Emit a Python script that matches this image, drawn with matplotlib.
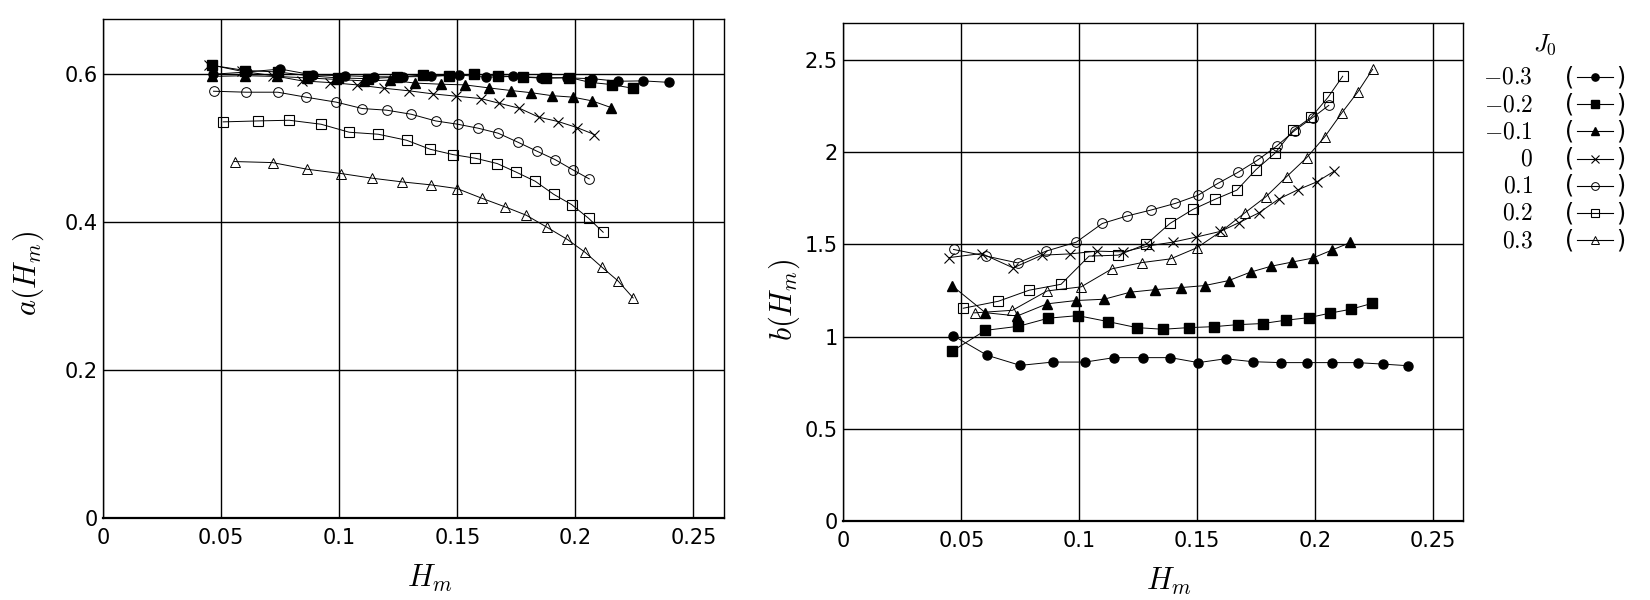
import numpy as np
import matplotlib
matplotlib.use("Agg")
import matplotlib.pyplot as plt
from matplotlib.lines import Line2D

plt.rcParams['mathtext.fontset'] = 'cm'
plt.rcParams['font.family'] = ['DejaVu Sans']

# J0 values and their labels
j0_labels = ['$-0.3$', '$-0.2$', '$-0.1$', '$0$', '$0.1$', '$0.2$', '$0.3$']

# H_m for each J0 series
hm_m03 = [0.0466, 0.0609, 0.0750, 0.0888, 0.1025, 0.1148, 0.1271, 0.1387, 0.1506, 0.1621, 0.1736, 0.1856, 0.1965, 0.2071, 0.2181, 0.2287, 0.2397]
hm_m02 = [0.0460, 0.0602, 0.0742, 0.0869, 0.0994, 0.1121, 0.1244, 0.1356, 0.1465, 0.1571, 0.1672, 0.1778, 0.1876, 0.1975, 0.2062, 0.2154, 0.2244]
hm_m01 = [0.0460, 0.0602, 0.0737, 0.0864, 0.0987, 0.1106, 0.1216, 0.1322, 0.1431, 0.1532, 0.1634, 0.1727, 0.1814, 0.1901, 0.1990, 0.2071, 0.2151]
hm_0 = [0.0449, 0.0586, 0.0720, 0.0842, 0.0962, 0.1075, 0.1188, 0.1297, 0.1398, 0.1496, 0.1599, 0.1677, 0.1763, 0.1846, 0.1928, 0.2007, 0.2081]
hm_01 = [0.0467, 0.0606, 0.0739, 0.0860, 0.0988, 0.1098, 0.1201, 0.1305, 0.1408, 0.1502, 0.1589, 0.1673, 0.1757, 0.1838, 0.1914, 0.1990, 0.2059]
hm_02 = [0.0508, 0.0657, 0.0788, 0.0923, 0.1042, 0.1165, 0.1285, 0.1385, 0.1482, 0.1576, 0.1669, 0.1750, 0.1830, 0.1908, 0.1984, 0.2056, 0.2118]
hm_03 = [0.0556, 0.0717, 0.0864, 0.1008, 0.1139, 0.1267, 0.1388, 0.1499, 0.1604, 0.1703, 0.1792, 0.1880, 0.1965, 0.2041, 0.2113, 0.2181, 0.2245]

# a(H_m)
a_m03 = [0.600, 0.603, 0.607, 0.599, 0.598, 0.5965, 0.5965, 0.597, 0.599, 0.596, 0.597, 0.5955, 0.595, 0.594, 0.5905, 0.591, 0.589]
a_m02 = [0.612, 0.605, 0.603, 0.598, 0.595, 0.594, 0.596, 0.599, 0.598, 0.600, 0.598, 0.596, 0.5945, 0.5955, 0.589, 0.586, 0.581]
a_m01 = [0.597, 0.598, 0.597, 0.595, 0.593, 0.591, 0.592, 0.588, 0.5865, 0.5856, 0.5815, 0.578, 0.575, 0.571, 0.569, 0.564, 0.555]
a_0 = [0.613, 0.604, 0.598, 0.591, 0.5887, 0.5856, 0.5811, 0.5775, 0.5734, 0.5703, 0.5671, 0.5608, 0.554, 0.5419, 0.536, 0.5279, 0.5185]
a_01 = [0.577, 0.5757, 0.5757, 0.5689, 0.5622, 0.5536, 0.5514, 0.5459, 0.5369, 0.5324, 0.527, 0.5203, 0.5081, 0.4959, 0.4847, 0.4707, 0.4586]
a_02 = [0.5356, 0.5369, 0.5378, 0.5324, 0.5216, 0.5189, 0.5108, 0.4986, 0.4914, 0.4865, 0.4793, 0.4676, 0.4554, 0.4378, 0.4239, 0.4054, 0.3865]
a_03 = [0.482, 0.4806, 0.4716, 0.4658, 0.4595, 0.4545, 0.4505, 0.4455, 0.4324, 0.4207, 0.4095, 0.3932, 0.377, 0.3595, 0.3392, 0.3207, 0.2977]

# b(H_m)
b_m03 = [1.005, 0.899, 0.844, 0.862, 0.862, 0.886, 0.886, 0.886, 0.859, 0.880, 0.864, 0.859, 0.859, 0.859, 0.859, 0.851, 0.842]
b_m02 = [0.920, 1.034, 1.056, 1.100, 1.114, 1.082, 1.049, 1.040, 1.049, 1.054, 1.065, 1.071, 1.089, 1.103, 1.127, 1.149, 1.181]
b_m01 = [1.277, 1.130, 1.112, 1.178, 1.196, 1.203, 1.241, 1.255, 1.266, 1.277, 1.304, 1.350, 1.382, 1.404, 1.426, 1.469, 1.511]
b_0 = [1.429, 1.451, 1.373, 1.442, 1.449, 1.464, 1.460, 1.493, 1.513, 1.540, 1.571, 1.618, 1.672, 1.746, 1.797, 1.839, 1.897]
b_01 = [1.473, 1.437, 1.400, 1.464, 1.513, 1.614, 1.654, 1.687, 1.723, 1.766, 1.832, 1.891, 1.958, 2.034, 2.118, 2.188, 2.255]
b_02 = [1.154, 1.192, 1.252, 1.284, 1.437, 1.442, 1.502, 1.614, 1.690, 1.745, 1.795, 1.906, 1.995, 2.120, 2.190, 2.299, 2.413]
b_03 = [1.129, 1.143, 1.248, 1.270, 1.368, 1.402, 1.422, 1.482, 1.573, 1.672, 1.759, 1.868, 1.971, 2.083, 2.212, 2.326, 2.451]

hm_all = [hm_m03, hm_m02, hm_m01, hm_0, hm_01, hm_02, hm_03]
a_all = [a_m03, a_m02, a_m01, a_0, a_01, a_02, a_03]
b_all = [b_m03, b_m02, b_m01, b_0, b_01, b_02, b_03]

x_ticks = [0, 0.05, 0.1, 0.15, 0.2, 0.25]
x_ticklabels = ['0', '0.05', '0.1', '0.15', '0.2', '0.25']
a_ticks = [0, 0.2, 0.4, 0.6]
a_ticklabels = ['0', '0.2', '0.4', '0.6']
b_ticks = [0, 0.5, 1, 1.5, 2, 2.5]
b_ticklabels = ['0', '0.5', '1', '1.5', '2', '2.5']

# marker style for each series
styles = [
    dict(marker='o', mfc='black', ms=6.5),
    dict(marker='s', mfc='black', ms=6.5),
    dict(marker='^', mfc='black', ms=7),
    dict(marker='x', mfc='none', ms=7.5, mew=0.8),
    dict(marker='o', mfc='none', ms=7, mew=0.7),
    dict(marker='s', mfc='none', ms=7, mew=0.8),
    dict(marker='^', mfc='none', ms=7.5, mew=0.7),
]

fig = plt.figure(figsize=(16.5, 6), dpi=100)
ax1 = fig.add_axes([0.0626, 0.1362, 0.3762, 0.832])
ax2 = fig.add_axes([0.5112, 0.1318, 0.3757, 0.8293])


def setup(ax, yticks, yticklabels, ymax):
    ax.set_xlim(0, 0.263)
    ax.set_ylim(0, ymax)
    ax.set_xticks(x_ticks)
    ax.set_xticklabels(x_ticklabels)
    ax.set_yticks(yticks)
    ax.set_yticklabels(yticklabels)
    ax.tick_params(length=0, labelsize=15)
    ax.tick_params(axis='x', pad=7)
    ax.tick_params(axis='y', pad=4)
    ax.grid(True, color='black', lw=1.0)
    ax.set_axisbelow(True)
    for s in ax.spines.values():
        s.set_linewidth(1.0)
    ax.spines['bottom'].set_linewidth(1.6)


setup(ax1, a_ticks, a_ticklabels, 0.6745)
setup(ax2, b_ticks, b_ticklabels, 2.70)

for hm, a, b, st in zip(hm_all, a_all, b_all, styles):
    ax1.plot(hm, a, color='black', lw=0.7, mec='black', **st)
    ax2.plot(hm, b, color='black', lw=0.7, mec='black', **st)

ax1.set_xlabel('$H_m$', fontsize=22)
ax1.set_ylabel('$a(H_m)$', fontsize=22)
ax2.set_xlabel('$H_m$', fontsize=22)
ax2.set_ylabel('$b(H_m)$', fontsize=22)
ax1.xaxis.set_label_coords(0.526, -0.09)
ax1.yaxis.set_label_coords(-0.092, 0.491)
ax2.xaxis.set_label_coords(0.524, -0.09)
ax2.yaxis.set_label_coords(-0.067, 0.444)

# legend drawn by hand: J0 value, then (-marker-)
fig.text(0.9364, 0.925, '$J_0$', fontsize=18, ha='center', va='center')
for i, (lab, st) in enumerate(zip(j0_labels, styles)):
    y = 1 - (77 + 27.2 * i) / 600
    fig.text(0.929, y, lab, fontsize=17, ha='right', va='center')
    fig.text(0.9515, y, '(', fontsize=17, ha='center', va='center')
    fig.text(0.982, y, ')', fontsize=17, ha='center', va='center')
    fig.add_artist(Line2D([0.9558, 0.9778], [y, y], transform=fig.transFigure,
                          color='black', lw=0.8))
    small = dict(st)
    small['ms'] = st['ms'] * 0.8
    fig.add_artist(Line2D([0.9668], [y], transform=fig.transFigure,
                          color='black', mec='black', lw=0, **small))

fig.savefig('out.png', dpi=100)
